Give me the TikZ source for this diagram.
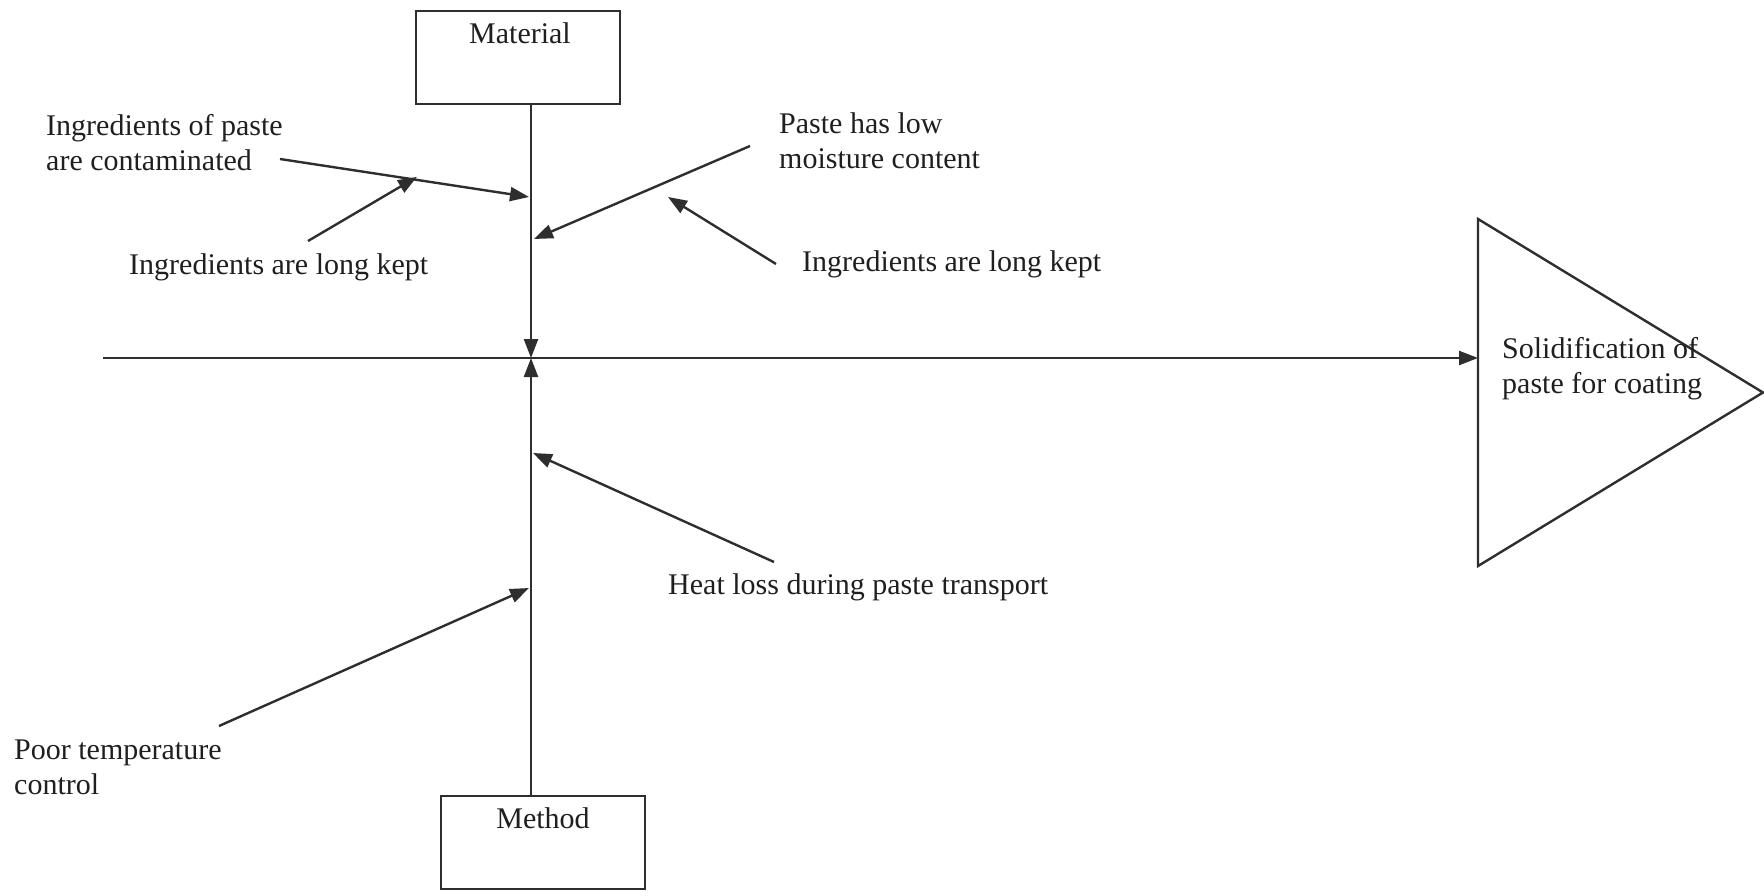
\documentclass[tikz,border=0pt]{standalone}
\usepackage{fontspec}
\setmainfont{Liberation Serif}
\usetikzlibrary{arrows.meta,calc}
\begin{document}
\begin{tikzpicture}[x=1pt,y=-1pt,
  ink/.style={draw=black!82, line width=2.4pt},
  arr/.style={ink, -{Triangle[length=19pt,width=14pt]}},
  lbl/.style={font=\fontsize{30}{35}\selectfont, text=black!88, inner sep=0pt, anchor=west, align=left},
  catbox/.style={ink, rectangle, minimum width=204pt, minimum height=93pt, inner sep=0pt}]
\useasboundingbox (0,0) rectangle (1764,896);

% category boxes
\node[catbox] (mat) at (518,57.5) {};
\node[lbl, anchor=center] (matT) at (520,33) {Material};
\node[catbox] (met) at (543,842.5) {};
\node[lbl, anchor=center] (metT) at (543,818) {Method};

% spine and effect head
\coordinate (hub) at (531,358);
\coordinate (spineL) at (103,358);
\coordinate (triL) at (1478,358);
\coordinate (t1) at (1478,219);
\coordinate (t2) at (1763,392.5);
\coordinate (t3) at (1478,566);
\draw[ink, line join=miter] (t1) -- (t2) -- (t3) -- cycle;
\draw[arr] (spineL) -- (triL);
\draw[arr] (mat.south -| hub) -- (hub);
\draw[arr] (met.north -| hub) -- (hub);
\node[lbl] (solid) at (1502,369) {Solidification of\\paste for coating};

% material causes
\node[lbl] (contam) at (46,143) {Ingredients of paste\\are contaminated};
\coordinate (c1s) at (280,159);
\coordinate (c1e) at (529,197);
\draw[arr] (c1s) -- (c1e);
\node[lbl] (kept1) at (129,267) {Ingredients are long kept};
\coordinate (k1s) at (308,241);
\coordinate (k1e) at ($(c1s)!0.55!(c1e)+(0,-3)$);
\draw[arr] (k1s) -- (k1e);

\node[lbl] (moist) at (779,141) {Paste has low\\moisture content};
\coordinate (m1s) at (750,146);
\coordinate (m1e) at (534,239);
\draw[arr] (m1s) -- (m1e);
\node[lbl] (kept2) at (802,264) {Ingredients are long kept};
\coordinate (k2s) at (776,264);
\coordinate (k2e) at (668,197);
\draw[arr] (k2s) -- (k2e);

% method causes
\node[lbl] (heat) at (668,587) {Heat loss during paste transport};
\coordinate (h1s) at (774,562);
\coordinate (h1e) at (533,453);
\draw[arr] (h1s) -- (h1e);
\node[lbl] (poor) at (14,767) {Poor temperature\\control};
\coordinate (p1s) at (219,726);
\coordinate (p1e) at (529,588);
\draw[arr] (p1s) -- (p1e);
\end{tikzpicture}
\end{document}
